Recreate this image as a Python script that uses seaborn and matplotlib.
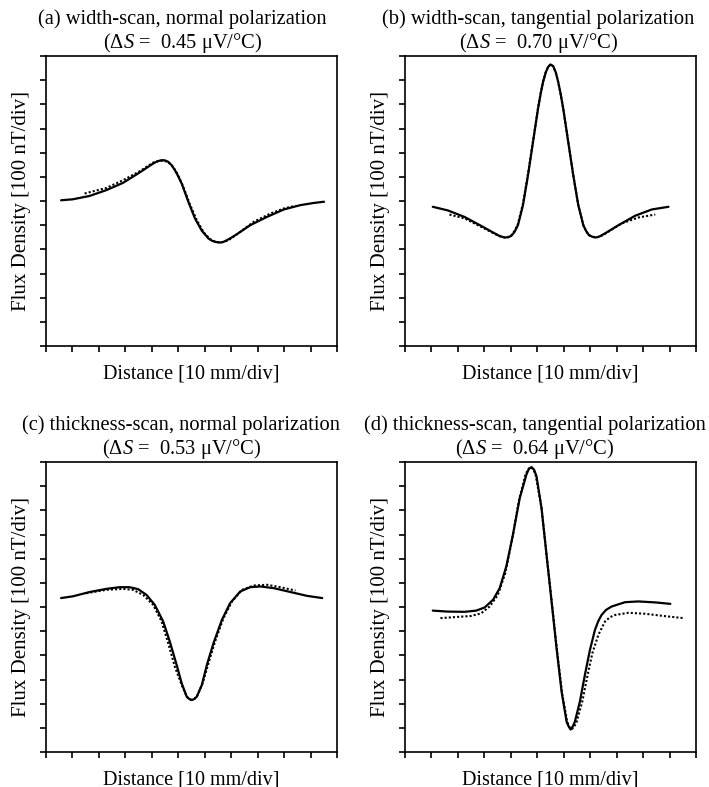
import matplotlib
matplotlib.use("Agg")
import matplotlib.pyplot as plt
import seaborn as sns

# ---------------- data (x in 10 mm divisions, y in 100 nT divisions) ----------------
a_solid_x = [0.57, 1.01, 1.65, 2.28, 2.91, 3.54, 4.05, 4.20, 4.37, 4.50, 4.62, 4.75, 4.87, 5.00,
             5.13, 5.38, 5.63, 5.89, 6.14, 6.27, 6.39, 6.58, 6.71, 6.84, 7.00, 7.22, 7.72, 8.35,
             8.99, 9.62, 10.13, 10.51]
a_solid_y = [5.03, 5.07, 5.21, 5.45, 5.75, 6.18, 6.55, 6.64, 6.69, 6.68, 6.62, 6.48, 6.28, 6.02,
             5.72, 4.97, 4.28, 3.77, 3.45, 3.36, 3.31, 3.28, 3.31, 3.38, 3.48, 3.63, 4.00, 4.34,
             4.65, 4.83, 4.92, 4.97]
a_dot_x = [1.46, 2.28, 2.91, 3.54, 4.05, 4.25, 4.43, 4.56, 4.68, 4.81, 4.94, 5.19, 5.44, 5.70,
           5.95, 6.20, 6.39, 6.58, 6.74, 6.90, 7.10, 7.34, 7.85, 8.48, 8.99, 9.43]
a_dot_y = [5.31, 5.54, 5.86, 6.23, 6.59, 6.65, 6.67, 6.63, 6.55, 6.40, 6.18, 5.59, 4.86, 4.21,
           3.72, 3.42, 3.32, 3.28, 3.31, 3.38, 3.53, 3.72, 4.14, 4.48, 4.69, 4.80]

b_solid_x = [1.05, 1.62, 2.25, 2.88, 3.39, 3.58, 3.77, 3.90, 4.02, 4.14, 4.27, 4.46, 4.65, 4.84,
             5.03, 5.13, 5.22, 5.32, 5.41, 5.50, 5.60, 5.70, 5.79, 5.88, 5.98, 6.17, 6.36, 6.55,
             6.74, 6.85, 6.95, 7.08, 7.21, 7.35, 7.56, 8.07, 8.70, 9.33, 9.96]
b_solid_y = [4.76, 4.61, 4.34, 3.97, 3.66, 3.55, 3.49, 3.50, 3.56, 3.72, 4.00, 4.83, 6.07, 7.45,
             8.83, 9.45, 9.93, 10.32, 10.55, 10.65, 10.58, 10.32, 9.93, 9.45, 8.83, 7.45, 6.07, 4.83,
             4.00, 3.75, 3.59, 3.52, 3.49, 3.53, 3.66, 4.00, 4.39, 4.65, 4.76]
b_dot_x = [1.68, 2.25, 2.88, 3.39, 3.58, 3.77, 3.90, 4.02, 4.14, 4.27, 4.46, 4.65, 4.84, 5.03,
           5.13, 5.22, 5.32, 5.41, 5.50, 5.60, 5.70, 5.79, 5.88, 5.98, 6.17, 6.36, 6.55, 6.74,
           6.85, 6.95, 7.08, 7.21, 7.35, 7.56, 8.19, 8.83, 9.46]
b_dot_y = [4.44, 4.28, 3.93, 3.64, 3.54, 3.49, 3.51, 3.58, 3.76, 4.05, 4.90, 6.12, 7.50, 8.86,
           9.47, 9.95, 10.33, 10.55, 10.65, 10.58, 10.32, 9.93, 9.45, 8.83, 7.45, 6.07, 4.83, 4.00,
           3.75, 3.59, 3.52, 3.49, 3.52, 3.64, 4.07, 4.32, 4.44]

c_solid_x = [0.57, 1.01, 1.65, 2.28, 2.78, 3.16, 3.48, 3.80, 4.11, 4.43, 4.68, 4.94, 5.13, 5.32,
             5.42, 5.51, 5.60, 5.70, 5.89, 6.08, 6.33, 6.65, 6.96, 7.34, 7.72, 8.10, 8.61, 9.24,
             9.87, 10.44]
c_solid_y = [5.37, 5.44, 5.62, 5.75, 5.82, 5.82, 5.74, 5.50, 5.09, 4.40, 3.57, 2.60, 1.84, 1.29,
             1.19, 1.15, 1.19, 1.29, 1.77, 2.60, 3.50, 4.47, 5.16, 5.64, 5.82, 5.85, 5.78, 5.62,
             5.46, 5.37]
c_dot_x = [1.52, 2.28, 2.91, 3.29, 3.67, 4.05, 4.37, 4.62, 4.87, 5.13, 5.32, 5.42, 5.51, 5.60,
           5.70, 5.92, 6.14, 6.39, 6.71, 7.03, 7.41, 7.85, 8.35, 8.86, 9.43]
c_dot_y = [5.57, 5.71, 5.75, 5.71, 5.50, 5.09, 4.40, 3.50, 2.53, 1.77, 1.29, 1.19, 1.15, 1.19,
           1.29, 1.84, 2.67, 3.57, 4.54, 5.23, 5.71, 5.89, 5.92, 5.82, 5.68]

d_solid_x = [1.05, 1.62, 2.25, 2.69, 3.01, 3.33, 3.58, 3.83, 4.08, 4.34, 4.59, 4.68, 4.78, 4.88,
             4.97, 5.16, 5.35, 5.54, 5.73, 5.92, 6.11, 6.19, 6.26, 6.34, 6.42, 6.61, 6.80, 6.99,
             7.18, 7.30, 7.43, 7.60, 7.81, 8.32, 8.82, 9.46, 10.03]
d_solid_y = [4.85, 4.81, 4.80, 4.85, 4.98, 5.30, 5.78, 6.68, 7.99, 9.52, 10.48, 10.71, 10.79, 10.68,
             10.41, 9.10, 7.16, 5.23, 3.29, 1.49, 0.25, 0.05, -0.07, 0.05, 0.25, 1.08, 2.19, 3.22,
             4.05, 4.40, 4.67, 4.88, 5.02, 5.20, 5.23, 5.19, 5.13]
d_dot_x = [1.34, 1.87, 2.50, 2.88, 3.20, 3.51, 3.79, 4.05, 4.30, 4.55, 4.65, 4.75, 4.85, 4.94,
           5.16, 5.35, 5.56, 5.75, 5.94, 6.13, 6.21, 6.30, 6.39, 6.49, 6.70, 6.89, 7.08, 7.31,
           7.56, 7.75, 7.94, 8.45, 9.08, 9.84, 10.53]
d_dot_y = [4.54, 4.58, 4.63, 4.74, 5.02, 5.50, 6.40, 7.79, 9.38, 10.46, 10.70, 10.79, 10.70, 10.46,
           9.10, 7.16, 5.09, 3.15, 1.42, 0.25, 0.04, -0.06, 0.04, 0.25, 1.08, 2.12, 3.08, 3.85,
           4.40, 4.58, 4.67, 4.76, 4.72, 4.62, 4.54]

titles = [
    "(a) width-scan, normal polarization\n(Δ$S$ =  0.45 μV/°C)",
    "(b) width-scan, tangential polarization\n(Δ$S$ =  0.70 μV/°C)",
    "(c) thickness-scan, normal polarization\n(Δ$S$ =  0.53 μV/°C)",
    "(d) thickness-scan, tangential polarization\n(Δ$S$ =  0.64 μV/°C)",
]
x_label = "Distance [10 mm/div]"
y_label = "Flux Density [100 nT/div]"

# ---------------- style ----------------
sns.set_theme(style="ticks")
plt.rcParams["font.family"] = ["Liberation Serif", "DejaVu Serif"]
plt.rcParams["mathtext.fontset"] = "custom"
plt.rcParams["mathtext.rm"] = "Liberation Serif"
plt.rcParams["mathtext.it"] = "Liberation Serif:italic"
plt.rcParams["axes.edgecolor"] = "black"
plt.rcParams["axes.linewidth"] = 1.2

fig = plt.figure(figsize=(7.09, 7.87), dpi=100)
W, H = 709, 787
positions = [(46, 56), (405, 56), (46, 462), (405, 462)]
title_shift = [-9, -12, -10, -16]   # px, title centre relative to axes centre
aw, ah = 291, 290

panels = [
    (a_solid_x, a_solid_y, a_dot_x, a_dot_y),
    (b_solid_x, b_solid_y, b_dot_x, b_dot_y),
    (c_solid_x, c_solid_y, c_dot_x, c_dot_y),
    (d_solid_x, d_solid_y, d_dot_x, d_dot_y),
]

for (px, py), shift, title, (sx, sy, dx, dy) in zip(positions, title_shift, titles, panels):
    ax = fig.add_axes([px / W, 1 - (py + ah) / H, aw / W, ah / H])
    sns.lineplot(x=sx, y=sy, ax=ax, color="black", linewidth=1.6, sort=False)
    sns.lineplot(x=dx, y=dy, ax=ax, color="black", linewidth=1.5, linestyle=(0, (1, 1)), sort=False)
    ax.set_xlim(0, 11)
    ax.set_ylim(-1, 11)
    ax.set_xticks(range(0, 12))
    ax.set_yticks(range(-1, 12))
    ax.set_xticklabels([])
    ax.set_yticklabels([])
    ax.tick_params(direction="out", length=4, width=1.2, color="black")
    ax.set_title(title, fontsize=14.8, color="black", pad=6, linespacing=1.1,
                 x=0.5 + shift / aw)
    ax.set_xlabel(x_label, fontsize=14.5, color="black", labelpad=6)
    ax.set_ylabel(y_label, fontsize=15, color="black", labelpad=3)

fig.savefig("out.png", dpi=100)
